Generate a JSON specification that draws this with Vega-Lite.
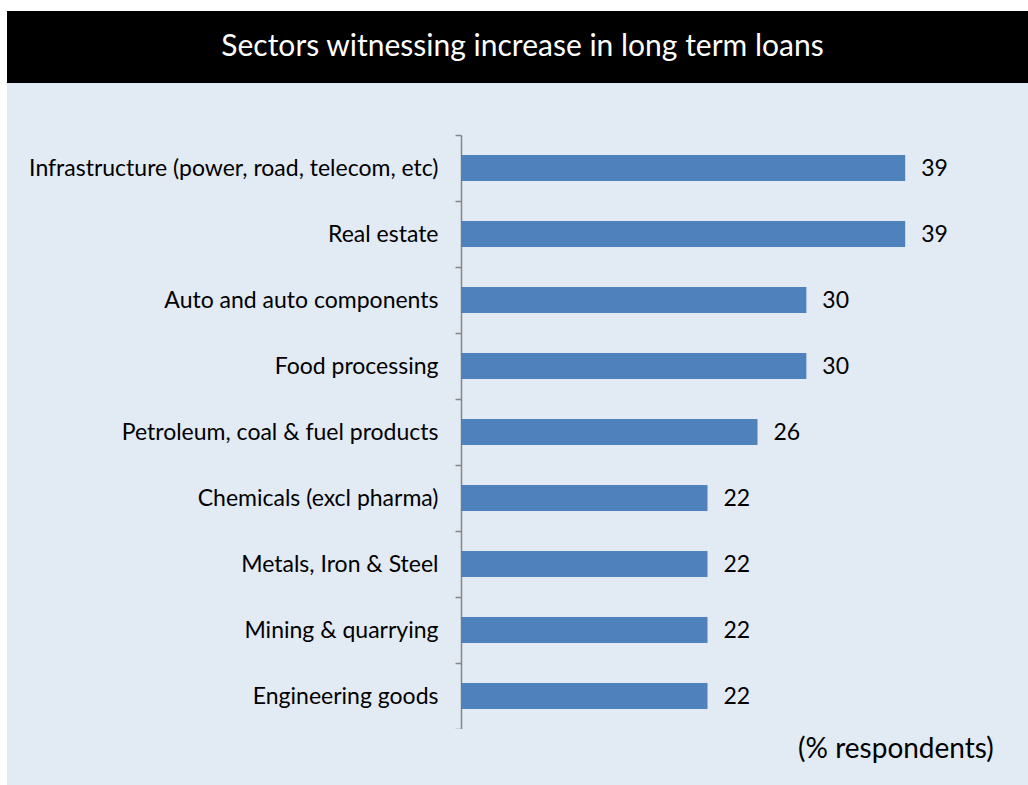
{
  "$schema": "https://vega.github.io/schema/vega-lite/v6.json",
  "background": "white",
  "padding": {"left": 7, "top": 11, "right": 0, "bottom": 0},
  "spacing": 0,
  "bounds": "flush",
  "config": {"font": "Lato", "view": {"stroke": null}, "concat": {"spacing": 0}},
  "datasets": {
    "title": [{"t": "Sectors witnessing increase in long term loans"}],
    "blank": [{"t": ""}],
    "note": [{"t": "(% respondents)"}],
    "sectors": [
      {"sector": "Infrastructure (power, road, telecom, etc)", "pct": 39.1},
      {"sector": "Real estate", "pct": 39.1},
      {"sector": "Auto and auto components", "pct": 30.4},
      {"sector": "Food processing", "pct": 30.4},
      {"sector": "Petroleum, coal & fuel products", "pct": 26.1},
      {"sector": "Chemicals (excl pharma)", "pct": 21.7},
      {"sector": "Metals, Iron & Steel", "pct": 21.7},
      {"sector": "Mining & quarrying", "pct": 21.7},
      {"sector": "Engineering goods", "pct": 21.7}
    ]
  },
  "vconcat": [
    {
      "width": 1021,
      "height": 72,
      "view": {"fill": "black", "stroke": null},
      "data": {"name": "title"},
      "mark": {"type": "text", "color": "white", "fontSize": 30, "baseline": "middle", "align": "center", "dx": 5},
      "encoding": {"text": {"field": "t"}}
    },
    {
      "width": 1021,
      "height": 52,
      "view": {"fill": "#E2EAF4", "stroke": null},
      "data": {"name": "blank"},
      "mark": {"type": "text"},
      "encoding": {"text": {"field": "t"}}
    },
    {
      "width": 1021,
      "height": 594,
      "view": {"fill": "#E2EAF4", "stroke": null},
      "data": {"name": "sectors"},
      "encoding": {
        "y": {
          "field": "sector",
          "type": "nominal",
          "sort": null,
          "scale": {"paddingInner": 0, "paddingOuter": 0},
          "axis": {
            "title": null,
            "orient": "left",
            "offset": -454,
            "domainColor": "#868686",
            "domainWidth": 1.5,
            "tickColor": "#868686",
            "tickWidth": 1.5,
            "tickSize": 6,
            "tickBand": "extent",
            "labelPadding": 17,
            "labelFontSize": 23,
            "labelColor": "black",
            "labelLimit": 600,
            "grid": false
          }
        },
        "x": {
          "field": "pct",
          "type": "quantitative",
          "scale": {"domain": [-39.96, 49.91], "nice": false, "zero": false},
          "axis": null
        }
      },
      "layer": [
        {"mark": {"type": "bar", "color": "#4F81BD", "height": {"band": 0.394}}},
        {
          "mark": {"type": "text", "align": "left", "baseline": "middle", "dx": 16, "dy": 1, "fontSize": 23, "color": "black"},
          "encoding": {"text": {"field": "pct", "type": "quantitative", "format": ".0f"}}
        }
      ]
    },
    {
      "width": 1021,
      "height": 56,
      "view": {"fill": "#E2EAF4", "stroke": null},
      "data": {"name": "note"},
      "mark": {"type": "text", "align": "right", "baseline": "middle", "dy": -7, "fontSize": 28, "color": "black"},
      "encoding": {
        "text": {"field": "t"},
        "x": {"datum": 46.9, "type": "quantitative", "scale": {"domain": [-39.96, 49.91], "nice": false, "zero": false}, "axis": null}
      }
    }
  ]
}
